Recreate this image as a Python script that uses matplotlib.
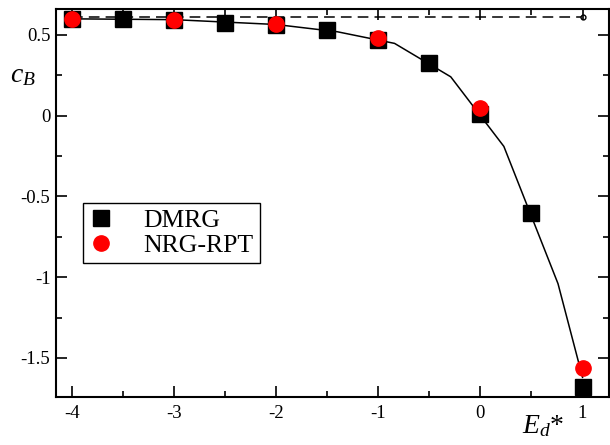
import matplotlib
matplotlib.use('Agg')
import matplotlib.pyplot as plt

plt.rcParams['font.family'] = ['Liberation Serif', 'DejaVu Serif']
plt.rcParams['mathtext.fontset'] = 'custom'
plt.rcParams['mathtext.rm'] = 'Liberation Serif'
plt.rcParams['mathtext.it'] = 'Liberation Serif:italic'

# DMRG data
dmrg_x = [-4, -3.5, -3, -2.5, -2, -1.5, -1, -0.5, 0, 0.5, 1]
dmrg_y = [0.60, 0.60, 0.59, 0.575, 0.56, 0.53, 0.47, 0.325, 0.012, -0.60, -1.678]

# NRG-RPT data
nrg_x = [-4, -3, -2, -1, 0, 1]
nrg_y = [0.60, 0.595, 0.565, 0.479, 0.046, -1.564]

# solid curve
curve_x = [-4, -3, -2, -1.4, -0.84, -0.29, 0.23, 0.76, 1.0]
curve_y = [0.60, 0.595, 0.565, 0.52, 0.448, 0.241, -0.19, -1.04, -1.62]

# dashed limit line
limit_x = [-4, 1]
limit_y = [0.613, 0.613]

fig = plt.figure(figsize=(6.1, 4.45), dpi=100)
ax = fig.add_axes([0.0918, 0.1085, 0.9062, 0.8713])

ax.plot(curve_x, curve_y, color='black', lw=1.1, zorder=1)
ax.plot(limit_x, limit_y, color='black', lw=1.1, ls=(0, (7, 4)),
        marker='o', markevery=[1], markersize=3.5, markerfacecolor='white', zorder=1)
ax.plot(dmrg_x, dmrg_y, 's', color='black', markersize=11, label='DMRG', zorder=2)
ax.plot(nrg_x, nrg_y, 'o', color='red', markersize=11, label='NRG-RPT', zorder=3)

ax.set_xlim(-4.154, 1.257)
ax.set_ylim(-1.74, 0.661)
ax.set_xticks([-4, -3, -2, -1, 0, 1])
ax.set_xticklabels(['-4', '-3', '-2', '-1', '0', '1'])
ax.set_xticks([-3.5, -2.5, -1.5, -0.5, 0.5], minor=True)
ax.set_yticks([-1.5, -1, -0.5, 0, 0.5])
ax.set_yticklabels(['-1.5', '-1', '-0.5', '0', '0.5'])
ax.set_yticks([-1.25, -0.75, -0.25, 0.25], minor=True)

# ticks inside, on all four sides
ax.tick_params(which='both', direction='in', top=True, right=True, width=1.2, labelsize=13.5)
ax.tick_params(which='major', length=8)
ax.tick_params(which='minor', length=4.3)
ax.tick_params(axis='x', pad=6)
ax.tick_params(axis='y', pad=4)
for s in ax.spines.values():
    s.set_linewidth(1.5)

leg = ax.legend(loc='upper left', bbox_to_anchor=(0.049, 0.5), borderaxespad=0,
                fontsize=18.5, fancybox=False, framealpha=1, edgecolor='black',
                handlelength=0.9, handletextpad=1.2, labelspacing=0.05, borderpad=0.25)
leg.get_frame().set_linewidth(1.0)

fig.text(10 / 610, 1 - 82 / 445, r'$c_B$', fontsize=20, va='baseline')
fig.text(522 / 610, 1 - 433 / 445, r'$E_d$*', fontsize=20, va='baseline')

fig.savefig('out.png', dpi=100)
